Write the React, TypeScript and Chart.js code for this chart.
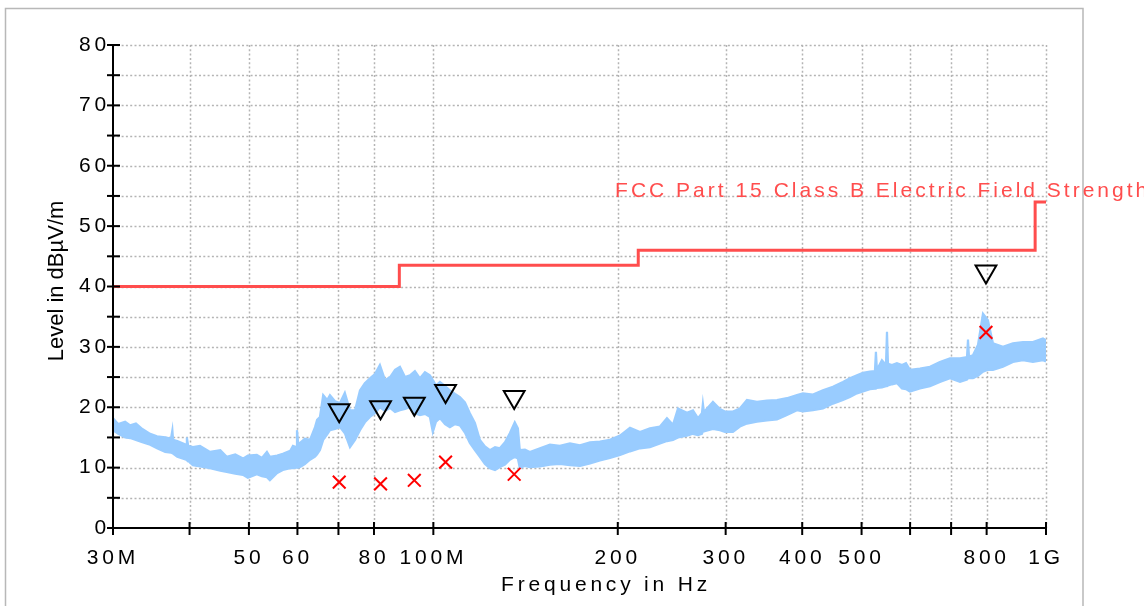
import React, { useEffect, useRef } from 'react';
import { Chart, registerables } from 'chart.js';

Chart.register(...registerables);

const FONT = "'Liberation Sans', Arial, sans-serif";

// Measured spectrum: frequency (MHz) with upper and lower edge of the noisy trace (dBµV/m)
const traceFreqMHz = [
  30.0, 30.6, 31.4, 32.0, 32.7, 33.5, 34.5, 35.4, 36.5, 37.3, 37.5, 37.6, 38.2, 39.5, 39.6, 39.8, 40.5, 41.6, 43.2, 44.9, 46.0, 47.5, 48.9, 49.8, 51.5, 52.5, 53.5, 54.1, 55.6, 56.8, 58.4, 59.0, 59.7, 59.9, 60.2, 60.6,
  61.7, 62.9, 64.1, 64.6, 65.3, 66.1, 67.1, 67.8, 69.1, 70.4, 71.7, 73.1, 74.5, 75.9, 77.3, 78.8, 80.3, 81.8, 83.4, 85.0, 86.6, 88.2, 89.9, 91.6, 93.3, 95.1, 96.9, 98.7, 99.8, 101.0, 102.5, 104.5, 106.4, 108.5, 110.5, 112.6, 114.7, 116.9, 119.1, 121.4, 123.7, 126.1, 128.4, 130.9, 133.3, 135.8, 137.4, 138.4, 141.1, 143.7,
  149.3, 155.0, 160.9, 167.1, 173.5, 180.2, 187.0, 194.2, 201.7, 209.4, 217.4, 225.7, 234.4, 240.6, 246.1, 250.8, 259.4, 265.3, 270.3, 274.4, 275.4, 276.5, 286.0, 293.6, 299.2, 308.3, 316.5, 325.0, 337.4, 350.4, 363.8, 377.7, 392.2,
  401.1, 416.5, 432.4, 449.0, 466.2, 478.6, 491.4, 502.6, 516.0, 525.7, 527.7, 529.7, 539.7, 548.0, 550.1, 552.2, 560.4, 571.0, 581.9, 590.8, 599.7, 622.6, 646.6, 671.2, 697.1, 723.8, 743.1, 745.9, 748.7, 759.9, 774.3, 789.1, 803.9, 819.2, 850.5, 883.1, 916.9, 952.0, 988.5, 1000,
];
const traceUpper = [
  18.2, 17.2, 17.6, 17.0, 17.3, 16.4, 15.6, 15.2, 15.0, 14.8, 16.2, 14.6, 14.4, 13.8, 15.0, 13.6, 13.4, 13.6, 12.6, 12.9, 11.8, 12.2, 11.5, 12.0, 12.1, 11.6, 12.6, 11.8, 12.0, 12.3, 12.8, 13.6, 13.4, 16.2, 13.8, 14.1,
  14.8, 14.6, 16.7, 17.9, 18.4, 22.0, 21.2, 22.0, 21.0, 20.7, 22.4, 19.5, 19.5, 22.8, 24.0, 24.8, 25.5, 27.0, 24.5, 25.0, 26.2, 26.7, 25.0, 25.3, 26.0, 24.8, 25.8, 25.3, 24.5, 23.6, 24.2, 23.5, 22.8, 22.2, 21.7, 20.8, 19.0, 17.4, 14.6, 13.5, 12.9, 13.4, 13.2, 14.2, 15.7, 17.5, 16.5, 12.9, 13.0, 12.6,
  13.2, 13.8, 13.6, 14.0, 13.7, 14.2, 14.3, 14.6, 15.3, 16.6, 15.9, 16.5, 16.8, 18.2, 17.1, 19.8, 19.1, 19.5, 18.2, 19.0, 20.6, 19.2, 20.9, 19.7, 19.3, 19.3, 19.8, 21.2, 20.9, 21.1, 21.2, 21.5, 22.0,
  22.3, 22.1, 22.8, 23.4, 24.2, 24.8, 25.3, 25.7, 25.9, 26.0, 29.2, 26.2, 27.8, 27.0, 32.5, 27.2, 27.0, 27.3, 27.0, 27.3, 26.2, 26.4, 26.7, 27.5, 28.1, 28.1, 28.3, 31.2, 28.4, 28.6, 30.3, 35.5, 34.4, 30.6, 30.0, 30.6, 30.8, 30.8, 31.4, 31.1,
];
const traceLower = [
  16.2, 15.6, 15.0, 14.9, 14.6, 14.2, 13.8, 13.2, 12.6, 12.5, 12.4, 12.3, 11.8, 11.3, 11.2, 11.1, 10.4, 10.2, 9.9, 9.5, 9.3, 9.0, 8.8, 8.3, 8.9, 8.6, 8.4, 7.9, 9.1, 9.6, 9.9, 9.9, 10.0, 10.0, 10.0, 10.1,
  10.6, 11.3, 11.8, 12.2, 12.9, 14.6, 15.5, 16.2, 16.4, 16.7, 15.7, 13.4, 14.6, 16.2, 17.5, 18.4, 19.0, 20.0, 19.4, 19.9, 19.2, 19.5, 19.7, 20.0, 19.0, 18.7, 18.9, 18.4, 15.9, 17.6, 18.2, 17.2, 16.7, 17.2, 17.0, 15.8, 14.1, 12.9, 11.8, 10.6, 9.9, 9.6, 10.1, 10.5, 11.3, 11.8, 11.5, 9.9, 10.3, 10.1,
  10.2, 10.5, 10.6, 10.4, 10.3, 10.7, 11.2, 11.6, 12.1, 12.7, 13.2, 13.4, 14.0, 14.4, 14.6, 15.0, 15.3, 15.6, 15.4, 15.6, 16.0, 16.0, 16.4, 16.2, 15.9, 15.9, 16.8, 17.3, 17.6, 17.8, 18.0, 18.7, 19.5,
  19.3, 19.5, 19.8, 20.6, 21.2, 21.7, 22.3, 22.6, 23.0, 23.1, 23.1, 23.2, 23.3, 23.5, 23.5, 23.6, 23.8, 24.0, 23.1, 23.0, 22.6, 23.1, 23.5, 24.2, 24.8, 24.2, 24.6, 24.8, 24.8, 24.8, 25.2, 25.9, 26.2, 26.2, 26.7, 27.5, 27.8, 27.5, 27.8, 27.6,
];

// Limit line (stepped)
const limitFreqMHz = [30, 88, 216, 960, 1000];
const limitLevel = [40, 43.5, 46, 54, 54];
const limitName = 'FCC Part 15 Class B Electric Field Strength';
const limitNameFreqMHz = 198;
const limitNameLevel = 54.8;

// Final measurement markers
const markerFreqMHz = [70.2, 82.0, 93.1, 104.7, 135.5, 798];
const peakLevel = [19.5, 20.0, 20.6, 22.7, 21.7, 42.5];
const quasiPeakLevel = [7.6, 7.3, 7.9, 10.9, 8.9, 32.4];

// Axes
const xTickValuesMHz = [30, 40, 50, 60, 70, 80, 100, 200, 300, 400, 500, 600, 700, 800, 1000];
const xTickLabelMap: Record<number, string> = { 30: '30M', 50: '50', 60: '60', 80: '80', 100: '100M', 200: '200', 300: '300', 400: '400', 500: '500', 800: '800', 1000: '1G' };
const yTickValues = [0, 5, 10, 15, 20, 25, 30, 35, 40, 45, 50, 55, 60, 65, 70, 75, 80];
const xTitle = 'Frequency in Hz';
const yTitle = 'Level in dBµV/m';

const TRACE_COLOR = '#99ccff';
const LIMIT_COLOR = '#ff4d4d';

const decorPlugin = {
  id: 'decor',
  beforeDraw(chart: any) {
    const ctx = chart.ctx;
    ctx.save();
    ctx.fillStyle = '#ffffff';
    ctx.fillRect(0, 0, chart.width, chart.height);
    ctx.strokeStyle = '#b8b8b8';
    ctx.lineWidth = 1.5;
    ctx.beginPath();
    ctx.moveTo(5.5, chart.height + 5);
    ctx.lineTo(5.5, 8.5);
    ctx.lineTo(1083, 8.5);
    ctx.lineTo(1083, chart.height + 5);
    ctx.stroke();
    ctx.restore();
    ctx.letterSpacing = '3.8px';
  },
  beforeDatasetsDraw(chart: any) {
    const ctx = chart.ctx;
    const { left, right, top, bottom } = chart.chartArea;
    const xs = chart.scales.x;
    const ys = chart.scales.y;
    ctx.save();
    ctx.strokeStyle = '#b4b4b4';
    ctx.lineWidth = 1.5;
    ctx.setLineDash([2, 2.3]);
    xTickValuesMHz.forEach((v) => {
      if (v === 30) return;
      const px = Math.round(xs.getPixelForValue(v)) + 0.5;
      ctx.beginPath();
      ctx.moveTo(px, top);
      ctx.lineTo(px, bottom);
      ctx.stroke();
    });
    yTickValues.forEach((v) => {
      if (v === 0) return;
      const py = Math.round(ys.getPixelForValue(v)) + 0.5;
      ctx.beginPath();
      ctx.moveTo(left, py);
      ctx.lineTo(right, py);
      ctx.stroke();
    });
    ctx.restore();
  },
  afterDatasetsDraw(chart: any) {
    const ctx = chart.ctx;
    const { left, right, top, bottom } = chart.chartArea;
    const xs = chart.scales.x;
    const ys = chart.scales.y;
    ctx.save();
    ctx.strokeStyle = '#000';
    ctx.lineWidth = 2;
    ctx.setLineDash([]);
    ctx.beginPath();
    ctx.moveTo(left, top - 1);
    ctx.lineTo(left, bottom);
    ctx.lineTo(right + 1, bottom);
    ctx.stroke();
    xTickValuesMHz.forEach((v) => {
      const px = xs.getPixelForValue(v);
      ctx.beginPath();
      ctx.moveTo(px, bottom - 6);
      ctx.lineTo(px, bottom + 7);
      ctx.stroke();
    });
    yTickValues.forEach((v) => {
      const py = ys.getPixelForValue(v);
      ctx.beginPath();
      ctx.moveTo(left - 6, py);
      ctx.lineTo(left + 7, py);
      ctx.stroke();
    });
    // limit name
    ctx.fillStyle = LIMIT_COLOR;
    ctx.font = `21px ${FONT}`;
    ctx.letterSpacing = '3px';
    ctx.textAlign = 'left';
    ctx.textBaseline = 'alphabetic';
    ctx.fillText(limitName, xs.getPixelForValue(limitNameFreqMHz), ys.getPixelForValue(limitNameLevel));
    // axis titles
    ctx.fillStyle = '#000';
    ctx.letterSpacing = '3.8px';
    ctx.textAlign = 'center';
    ctx.fillText(xTitle, 606, 591);
    ctx.letterSpacing = '0px';
    ctx.font = `22px ${FONT}`;
    ctx.translate(63, 281);
    ctx.rotate(-Math.PI / 2);
    ctx.textBaseline = 'alphabetic';
    ctx.fillText(yTitle, 0, 0);
    ctx.restore();
  },
  afterDraw(chart: any) {
    chart.ctx.letterSpacing = '0px';
  },
};

export default function App() {
  const ref = useRef<HTMLCanvasElement | null>(null);
  useEffect(() => {
    document.body.style.margin = '0';
    const canvas = ref.current;
    if (!canvas) return;
    const chart = new Chart(canvas, {
      type: 'line',
      data: {
        datasets: [
          {
            label: 'QP',
            data: markerFreqMHz.map((f, i) => ({ x: f, y: quasiPeakLevel[i] })),
            showLine: false,
            pointStyle: 'crossRot',
            pointRadius: 9,
            pointBorderWidth: 2,
            borderColor: '#ff0000',
            backgroundColor: '#ff0000',
            order: 1,
          },
          {
            label: 'Peak',
            data: markerFreqMHz.map((f, i) => ({ x: f, y: peakLevel[i] })),
            showLine: false,
            pointStyle: 'triangle',
            rotation: 180,
            pointRadius: 12,
            pointBorderWidth: 2,
            borderColor: '#000000',
            backgroundColor: 'rgba(0,0,0,0)',
            order: 0,
          },
          {
            label: 'Limit',
            data: limitFreqMHz.map((f, i) => ({ x: f, y: limitLevel[i] })),
            stepped: 'before',
            borderColor: LIMIT_COLOR,
            borderWidth: 3,
            pointRadius: 0,
            fill: false,
            order: 2,
          },
          {
            label: 'Trace upper',
            data: traceFreqMHz.map((f, i) => ({ x: f, y: traceUpper[i] })),
            borderColor: TRACE_COLOR,
            backgroundColor: TRACE_COLOR,
            borderWidth: 2.2,
            pointRadius: 0,
            fill: false,
            order: 4,
          },
          {
            label: 'Trace lower',
            data: traceFreqMHz.map((f, i) => ({ x: f, y: traceLower[i] })),
            borderColor: TRACE_COLOR,
            backgroundColor: TRACE_COLOR,
            borderWidth: 2.2,
            pointRadius: 0,
            fill: '-1',
            order: 3,
          },
        ],
      },
      options: {
        responsive: false,
        animation: false,
        devicePixelRatio: 1,
        layout: { padding: { top: 45, right: 98, left: 0, bottom: 0 } },
        plugins: { legend: { display: false }, tooltip: { enabled: false } },
        scales: {
          x: {
            type: 'logarithmic',
            min: 30,
            max: 1000,
            afterBuildTicks: (s: any) => {
              s.ticks = xTickValuesMHz.map((v) => ({ value: v }));
            },
            afterFit: (s: any) => {
              s.height = 78;
            },
            ticks: {
              autoSkip: false,
              maxRotation: 0,
              minRotation: 0,
              padding: 18,
              color: '#000',
              font: { family: FONT, size: 21 },
              callback: (v: any) => xTickLabelMap[Number(v)] ?? '',
            },
            grid: { display: false, drawTicks: false },
            border: { display: false },
          },
          y: {
            type: 'linear',
            min: 0,
            max: 80,
            afterBuildTicks: (s: any) => {
              s.ticks = yTickValues.map((v) => ({ value: v }));
            },
            afterFit: (s: any) => {
              s.width = 113;
            },
            ticks: {
              autoSkip: false,
              padding: 3,
              color: '#000',
              font: { family: FONT, size: 21 },
              callback: (v: any) => (Number(v) % 10 === 0 ? String(v) : ''),
            },
            grid: { display: false, drawTicks: false },
            border: { display: false },
          },
        },
      },
      plugins: [decorPlugin],
    } as any);
    return () => chart.destroy();
  }, []);
  return <canvas ref={ref} width={1144} height={606} style={{ display: 'block', width: 1144, height: 606 }} />;
}
